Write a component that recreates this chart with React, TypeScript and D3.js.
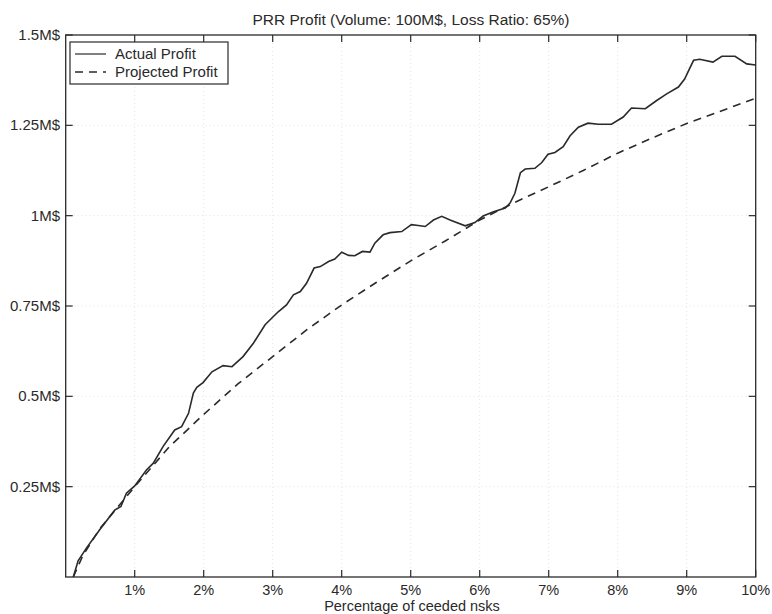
import React from "react";
import * as d3 from "d3";

const actualX = [0.11,0.18,0.30,0.49,0.71,0.80,0.88,1.0,1.17,1.27,1.41,1.58,1.68,1.78,1.85,1.90,1.99,2.12,2.28,2.41,2.57,2.72,2.89,3.08,3.20,3.30,3.40,3.49,3.60,3.69,3.81,3.90,4.00,4.10,4.19,4.30,4.41,4.48,4.60,4.70,4.87,5.01,5.11,5.21,5.33,5.45,5.57,5.79,5.93,6.05,6.20,6.37,6.44,6.51,6.59,6.66,6.80,6.90,6.99,7.09,7.21,7.31,7.43,7.57,7.72,7.91,8.08,8.20,8.40,8.56,8.71,8.88,8.97,9.04,9.10,9.19,9.38,9.51,9.70,9.87,10.0];
const actualY = [0,0.045,0.08,0.13,0.185,0.195,0.232,0.252,0.296,0.315,0.361,0.407,0.416,0.453,0.509,0.525,0.538,0.568,0.585,0.582,0.61,0.647,0.698,0.734,0.753,0.781,0.790,0.813,0.855,0.859,0.873,0.880,0.899,0.890,0.889,0.901,0.899,0.924,0.947,0.953,0.956,0.975,0.973,0.970,0.988,0.998,0.988,0.972,0.981,0.999,1.011,1.021,1.035,1.062,1.119,1.129,1.131,1.147,1.170,1.175,1.191,1.221,1.245,1.256,1.253,1.253,1.273,1.298,1.296,1.318,1.337,1.356,1.378,1.406,1.430,1.433,1.425,1.441,1.441,1.420,1.417];

const projectedX = [0.11,0.25,0.5,1,1.5,2,2.5,3,3.5,4,4.5,5,5.5,6,6.5,7,7.5,8,8.5,9,9.5,10];
const projectedY = [0,0.06,0.135,0.25,0.36,0.45,0.535,0.61,0.685,0.753,0.815,0.875,0.93,0.988,1.036,1.08,1.125,1.173,1.215,1.255,1.29,1.325];

const xTicks = [1,2,3,4,5,6,7,8,9,10];
const xTickLabels = ["1%","2%","3%","4%","5%","6%","7%","8%","9%","10%"];
const yTicks = [0.25,0.5,0.75,1,1.25,1.5];
const yTickLabels = ["0.25M$","0.5M$","0.75M$","1M$","1.25M$","1.5M$"];

const title = "PRR Profit (Volume: 100M$, Loss Ratio: 65%)";
const xTitle = "Percentage of ceeded nsks";
const legendLabels = ["Actual Profit", "Projected Profit"];

export default function App() {
  const W = 772, H = 614;
  const L = 65.7, R = 755.7, T = 35, B = 577;
  const x = d3.scaleLinear().domain([0, 10]).range([L, R]);
  const y = d3.scaleLinear().domain([0, 1.5]).range([B, T]);
  const line = d3.line<[number, number]>().x(d => x(d[0])).y(d => y(d[1]));
  const actual = line(actualX.map((v, i) => [v, actualY[i]] as [number, number])) || "";
  const projected = line(projectedX.map((v, i) => [v, projectedY[i]] as [number, number])) || "";
  const font = "'Liberation Sans', Arial, Helvetica, sans-serif";
  const ink = "#2a2a2a";
  const tl = 7;
  const fs = 15;
  return (
    <svg width={W} height={H} style={{ position: "absolute", left: 0, top: 0, background: "#fff" }} fontFamily={font}>
      <rect x={0} y={0} width={W} height={H} fill="#fff" />
      {/* grid */}
      {xTicks.slice(0, -1).map(t => (
        <line key={"gx" + t} x1={x(t)} x2={x(t)} y1={T} y2={B} stroke="#e4e4e4" strokeDasharray="1,3" />
      ))}
      {yTicks.slice(0, -1).map(t => (
        <line key={"gy" + t} x1={L} x2={R} y1={y(t)} y2={y(t)} stroke="#e4e4e4" strokeDasharray="1,3" />
      ))}
      {/* curves */}
      <path d={projected} fill="none" stroke={ink} strokeWidth={1.6} strokeDasharray="8,6" />
      <path d={actual} fill="none" stroke={ink} strokeWidth={1.6} />
      {/* box */}
      <rect x={L} y={T} width={R - L} height={B - T} fill="none" stroke={ink} strokeWidth={1.3} />
      {/* ticks */}
      {xTicks.map(t => (
        <g key={"tx" + t}>
          <line x1={x(t)} x2={x(t)} y1={B} y2={B - tl} stroke={ink} strokeWidth={1.2} />
          <line x1={x(t)} x2={x(t)} y1={T} y2={T + tl} stroke={ink} strokeWidth={1.2} />
        </g>
      ))}
      {yTicks.map(t => (
        <g key={"ty" + t}>
          <line x1={L} x2={L + tl} y1={y(t)} y2={y(t)} stroke={ink} strokeWidth={1.2} />
          <line x1={R} x2={R - tl} y1={y(t)} y2={y(t)} stroke={ink} strokeWidth={1.2} />
        </g>
      ))}
      {/* tick labels */}
      {xTicks.map((t, i) => (
        <text key={"lx" + t} x={x(t)} y={594.5} textAnchor="middle" fontSize={14.5} fill={ink}>{xTickLabels[i]}</text>
      ))}
      {yTicks.map((t, i) => (
        <text key={"ly" + t} x={60} y={y(t) + 5} textAnchor="end" fontSize={fs} fill={ink}>{yTickLabels[i]}</text>
      ))}
      {/* titles */}
      <text x={411} y={24.5} textAnchor="middle" fontSize={15.5} fill={ink}>{title}</text>
      <text x={412} y={611} textAnchor="middle" fontSize={14.5} fill={ink}>{xTitle}</text>
      {/* legend */}
      <rect x={70} y={42} width={158} height={42} fill="#fff" stroke={ink} strokeWidth={1.2} />
      <line x1={75} x2={106} y1={54} y2={54} stroke={ink} strokeWidth={1.2} />
      <text x={115} y={59} fontSize={fs} fill={ink}>{legendLabels[0]}</text>
      <line x1={75} x2={106} y1={72} y2={72} stroke={ink} strokeWidth={1.6} strokeDasharray="8,6" />
      <text x={115} y={77} fontSize={fs} fill={ink}>{legendLabels[1]}</text>
    </svg>
  );
}
